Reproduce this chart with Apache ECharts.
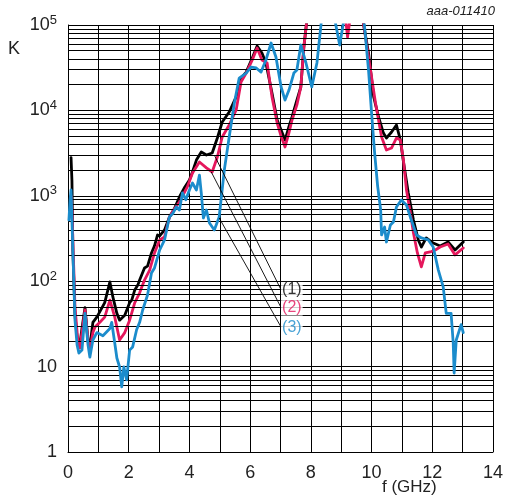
<!DOCTYPE html>
<html>
<head>
<meta charset="utf-8">
<script src="https://cdn.jsdelivr.net/npm/echarts@6/dist/echarts.min.js"></script>
<style>
html,body{margin:0;padding:0;background:#fff;}
#c{width:506px;height:500px;}
</style>
</head>
<body>
<div id="c"></div>
<script>
// ---------- data (f in GHz, K values) ----------
const fBlack = [0.10,0.13,0.16,0.23,0.30,0.39,0.46,0.56,0.66,0.72,0.82,0.95,1.05,1.21,1.38,1.48,1.61,1.70,1.87,2.03,2.10,2.20,2.30,2.36,2.52,2.62,2.75,2.85,2.95,3.02,3.18,3.34,3.50,3.67,3.85,4.00,4.10,4.23,4.39,4.56,4.75,4.92,5.08,5.31,5.54,5.70,5.87,6.07,6.23,6.39,6.52,6.72,6.89,7.02,7.15,7.28,7.38,7.54,7.67,7.77,7.87,8.10,9.50,9.74,9.90,10.07,10.23,10.39,10.49,10.66,10.82,10.95,11.05,11.21,11.38,11.54,11.64,11.80,12.03,12.26,12.52,12.75,13.02];
const kBlack = [2800,1500,230,40,22,18,28,49,20,17,33,38,44,56,98,65,42,35,40,56,60,79,90,103,143,150,214,260,348,340,398,560,700,968,1270,1530,1900,2620,3260,3000,3170,4750,7310,9580,14400,23900,28100,41100,56800,47000,35900,16000,7720,5900,4500,6500,8370,13200,18800,55300,115000,400000,400000,100000,47000,14400,8370,5430,4750,5580,6740,4500,2500,1080,521,304,251,321,280,258,288,232,288];

const fPink = [0.10,0.13,0.16,0.23,0.33,0.39,0.46,0.56,0.66,0.72,0.82,0.89,1.05,1.21,1.38,1.54,1.70,1.87,2.03,2.20,2.36,2.52,2.69,2.85,3.02,3.18,3.34,3.50,3.67,3.93,4.10,4.33,4.56,4.75,4.92,5.08,5.31,5.54,5.70,5.87,6.07,6.23,6.39,6.56,6.72,6.89,7.02,7.15,7.28,7.38,7.54,7.67,7.77,7.87,8.10,9.05,9.15,9.21,9.28,9.40,9.60,9.74,9.90,10.13,10.33,10.49,10.66,10.82,10.95,11.05,11.15,11.28,11.38,11.51,11.64,11.77,11.93,12.10,12.26,12.52,12.75,13.02];
const kPink = [1000,700,304,50,19,16.5,25,46,20,15.6,25,29,33,38,60,38,20.5,25,35,56,73,103,135,214,304,330,565,700,846,1270,1850,2490,2120,1900,2850,4880,6740,10100,21500,27400,38900,53800,38900,35900,14400,7120,5000,3730,5500,7720,11600,18800,55300,115000,400000,400000,115000,72000,110000,400000,400000,100000,42200,12200,4880,3440,3630,4750,4500,2620,1170,629,367,214,147,214,220,232,251,273,203,245];

const fBlue = [0.03,0.07,0.10,0.16,0.23,0.30,0.36,0.46,0.56,0.66,0.72,0.82,0.95,1.15,1.38,1.44,1.54,1.61,1.70,1.77,1.84,1.93,2.03,2.13,2.26,2.36,2.46,2.62,2.75,2.85,3.02,3.18,3.34,3.45,3.57,3.67,3.77,3.88,4.00,4.10,4.23,4.33,4.39,4.46,4.56,4.66,4.82,4.98,5.15,5.31,5.48,5.64,5.87,6.03,6.20,6.36,6.52,6.69,6.85,7.02,7.15,7.28,7.44,7.54,7.67,7.84,8.03,8.20,8.33,8.50,8.70,8.79,8.95,9.08,9.25,9.60,9.77,9.90,10.00,10.10,10.20,10.30,10.33,10.43,10.49,10.62,10.72,10.82,10.98,11.15,11.31,11.48,11.64,11.87,12.03,12.20,12.36,12.46,12.62,12.69,12.72,12.79,12.95,13.02];
const kBlue = [521,900,1170,232,35,17.9,14.4,15.6,42,17.9,12.9,20.5,25,23,28,33,18.9,12.6,9.9,5.8,9.9,7.0,15.6,17,27,33,46,69,125,143,232,304,565,620,739,680,1080,900,1170,1410,1170,1750,1080,550,682,480,398,565,2010,4880,12200,23900,27400,32200,31400,28100,38900,61500,42200,18800,13200,17300,27400,29700,58300,35900,18800,35900,97000,400000,400000,115000,58300,110000,400000,400000,95000,29700,9330,3200,1300,682,348,431,288,455,493,739,893,780,521,348,321,304,251,135,86,42,42,18.9,8.4,20.5,31,25];

// callout leader lines: [start f, start K] -> [end f, end K]
const calloutNames = ['(1)','(2)','(3)'];
const calloutStart = [[4.82,3000],[4.72,1900],[4.98,550]];
const calloutEnd = [[7.02,79],[7.02,49],[7.02,29]];

// axis ticks
const xTicks = [0,2,4,6,8,10,12,14];
const yMajor = [1,10,100,1000,10000,100000];
const yMinor = [2,3,4,5,6,7,8,9,20,30,40,50,60,70,80,90,200,300,400,500,600,700,800,900,2000,3000,4000,5000,6000,7000,8000,9000,20000,30000,40000,50000,60000,70000,80000,90000];

const colors = ['#000000','#e5175c','#1b8ccc'];

function pairs(xs, ys){ return xs.map((x,i)=>[x, ys[i]]); }

const chart = echarts.init(document.getElementById('c'), null, {renderer:'canvas'});
const FONT = 'Liberation Sans, Arial, sans-serif';

const series = [
  {
    type:'line', data:[], z:1, silent:true,
    markLine:{
      silent:true, symbol:['none','none'], label:{show:false},
      lineStyle:{color:'#000', width:1, type:'solid'},
      animation:false,
      data: yMinor.map(v=>({yAxis:v}))
    }
  }
];
const sets = [[fBlack,kBlack],[fPink,kPink],[fBlue,kBlue]];
sets.forEach((s,i)=>{
  series.push({
    type:'line', data:pairs(s[0],s[1]), showSymbol:false, symbol:'none',
    clip:true, z:3+i,
    lineStyle:{color:colors[i], width:2.8, join:'round', cap:'round'},
    animation:false
  });
});
calloutStart.forEach((st,i)=>{
  series.push({
    type:'line', data:[st, calloutEnd[i]], showSymbol:false, symbol:'none', z:7,
    lineStyle:{color:'#000', width:0.9}, animation:false
  });
  series.push({
    type:'scatter', data:[calloutEnd[i]], symbolSize:0, z:8,
    label:{show:true, position:'right', distance:0, formatter:calloutNames[i],
      color:colors[i], fontSize:16, fontFamily:FONT, backgroundColor:'#fff', padding:[0,1,0,1]},
    animation:false
  });
});

chart.setOption({
  animation:false,
  grid:{left:68, top:25, right:11, bottom:48, containLabel:false},
  xAxis:{
    type:'value', min:0, max:14, interval:1,
    axisLine:{show:true, lineStyle:{color:'#000', width:1}},
    axisTick:{show:false},
    splitLine:{show:true, lineStyle:{color:'#000', width:1}},
    axisLabel:{
      margin:12, fontSize:18, color:'#222', fontFamily:FONT,
      formatter:v => xTicks.indexOf(v) >= 0 ? String(v) : ''
    }
  },
  yAxis:{
    type:'log', logBase:10, min:1, max:100000,
    axisLine:{show:true, lineStyle:{color:'#000', width:1}},
    axisTick:{show:false},
    splitLine:{show:true, lineStyle:{color:'#000', width:1}},
    axisLabel:{
      margin:11, color:'#222', fontFamily:FONT,
      formatter:v => {
        const e = Math.round(Math.log10(v));
        if (yMajor.indexOf(v) < 0 && Math.abs(Math.pow(10,e)-v) > 1e-6) return '';
        if (e === 0) return '{b|1}';
        if (e === 1) return '{b|10}';
        return '{b|10}{s|' + e + '}';
      },
      rich:{
        b:{fontSize:18, fontFamily:FONT, color:'#222'},
        s:{fontSize:13, fontFamily:FONT, color:'#222', verticalAlign:'bottom', padding:[0,0,10,0]}
      }
    }
  },
  graphic:[
    {type:'text', left:8, top:40, style:{text:'K', fontSize:18, fontFamily:FONT, fill:'#222'}},
    {type:'text', left:382, top:479, style:{text:'f (GHz)', fontSize:17, fontFamily:FONT, fill:'#222'}},
    {type:'text', right:11, top:5, style:{text:'aaa-011410', fontSize:13, fontStyle:'italic', fontFamily:FONT, fill:'#222'}}
  ],
  series: series
});
</script>
</body>
</html>
